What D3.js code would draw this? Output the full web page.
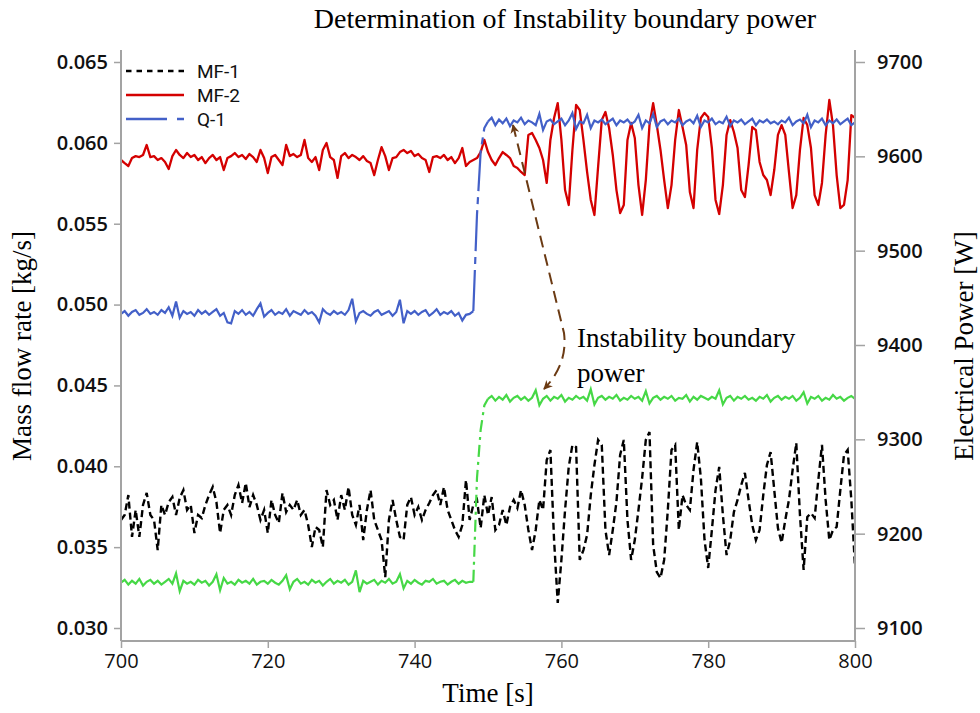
<!DOCTYPE html>
<html><head><meta charset="utf-8">
<script src="https://cdn.jsdelivr.net/npm/d3@7"></script>
<style>body{margin:0;background:#fff}</style>
</head><body><svg id="c" width="980" height="713"></svg>
<script>
// ---- data (sampled every 0.5 s from 700 s to 800 s) ----
const tStart = 700, tStep = 0.5;
const mf1 = [
0.03668,0.03699,0.03822,0.03563,0.03730,0.03563,0.03761,0.03835,0.03699,0.03668,
0.03482,0.03761,0.03699,0.03779,0.03810,0.03699,0.03804,0.03853,0.03730,0.03761,
0.03587,0.03699,0.03680,0.03761,0.03822,0.03872,0.03779,0.03587,0.03730,0.03761,
0.03699,0.03822,0.03884,0.03773,0.03897,0.03748,0.03822,0.03761,0.03668,0.03730,
0.03587,0.03792,0.03699,0.03649,0.03835,0.03717,0.03761,0.03730,0.03792,0.03699,
0.03730,0.03637,0.03501,0.03625,0.03606,0.03501,0.03853,0.03761,0.03792,0.03668,
0.03822,0.03730,0.03872,0.03699,0.03637,0.03761,0.03544,0.03730,0.03853,0.03668,
0.03606,0.03544,0.03315,0.03668,0.03792,0.03668,0.03563,0.03544,0.03761,0.03810,
0.03699,0.03748,0.03668,0.03730,0.03773,0.03822,0.03853,0.03761,0.03872,0.03730,
0.03668,0.03606,0.03563,0.03637,0.03915,0.03668,0.03761,0.03792,0.03618,0.03822,
0.03699,0.03810,0.03606,0.03637,0.03730,0.03637,0.03748,0.03792,0.03742,0.03853,
0.03761,0.03606,0.03482,0.03606,0.03792,0.03730,0.04039,0.04101,0.03544,0.03155,
0.03421,0.03730,0.03996,0.04132,0.04119,0.03421,0.03482,0.03575,0.03822,0.04008,
0.04163,0.04132,0.03606,0.03451,0.03606,0.03779,0.04070,0.04163,0.03668,0.03421,
0.03544,0.03730,0.03928,0.04163,0.04212,0.03513,0.03346,0.03309,0.03421,0.03730,
0.04101,0.04132,0.03606,0.03822,0.03761,0.03730,0.03977,0.04150,0.03928,0.03544,
0.03371,0.03606,0.03853,0.03996,0.03699,0.03451,0.03544,0.03717,0.03792,0.03884,
0.03959,0.03792,0.03637,0.03544,0.03606,0.03822,0.04008,0.04088,0.03853,0.03618,
0.03526,0.03668,0.03792,0.03977,0.04144,0.03699,0.03359,0.03686,0.03711,0.03680,
0.03915,0.04132,0.03792,0.03544,0.03606,0.03625,0.03853,0.04070,0.04101,0.03792,0.03377];
const mf2 = [
0.05894,0.05875,0.05857,0.05906,0.05918,0.05912,0.05925,0.05987,0.05912,0.05918,
0.05894,0.05906,0.05882,0.05838,0.05918,0.05956,0.05925,0.05906,0.05937,0.05912,
0.05925,0.05894,0.05912,0.05875,0.05906,0.05925,0.05894,0.05912,0.05832,0.05906,
0.05918,0.05937,0.05912,0.05925,0.05900,0.05931,0.05912,0.05882,0.05956,0.05906,
0.05813,0.05912,0.05925,0.05894,0.05863,0.05987,0.05918,0.05931,0.05912,0.05925,
0.06018,0.05906,0.05882,0.05912,0.05832,0.05956,0.05999,0.05912,0.05894,0.05783,
0.05918,0.05937,0.05906,0.05925,0.05912,0.05894,0.05918,0.05888,0.05875,0.05801,
0.05894,0.05974,0.05918,0.05832,0.05906,0.05912,0.05943,0.05956,0.05937,0.05950,
0.05918,0.05931,0.05906,0.05894,0.05820,0.05912,0.05918,0.05906,0.05925,0.05894,
0.05912,0.05875,0.05906,0.05968,0.05857,0.05882,0.05894,0.05906,0.05943,0.06018,
0.05943,0.05894,0.05863,0.05906,0.05943,0.05925,0.05906,0.05857,0.05845,0.05820,
0.05801,0.06049,0.06061,0.06018,0.05968,0.05894,0.05752,0.06018,0.06154,0.06246,
0.06018,0.05708,0.05616,0.05956,0.06234,0.06203,0.06018,0.05820,0.05647,0.05554,
0.05851,0.06141,0.06191,0.06092,0.05925,0.05708,0.05566,0.05616,0.06018,0.06123,
0.06030,0.05739,0.05554,0.05770,0.06110,0.06246,0.06110,0.05956,0.05770,0.05597,
0.05739,0.06018,0.06203,0.06098,0.05987,0.05696,0.05597,0.05956,0.06154,0.06185,
0.06160,0.05968,0.05647,0.05560,0.05739,0.06049,0.06141,0.06067,0.05968,0.05708,
0.05665,0.05863,0.06098,0.06079,0.05882,0.05801,0.05770,0.05677,0.05832,0.06049,
0.06110,0.06049,0.05820,0.05597,0.05677,0.05956,0.06154,0.06110,0.05968,0.05677,
0.05616,0.05752,0.06049,0.06265,0.06110,0.05801,0.05597,0.05616,0.05770,0.06172,0.06154];
const q1 = [
9433,9436,9431,9435,9437,9432,9434,9438,9433,9435,
9432,9437,9434,9440,9431,9446,9429,9436,9433,9435,
9431,9437,9433,9436,9432,9435,9438,9431,9434,9424,
9423,9436,9433,9437,9432,9435,9431,9438,9444,9430,
9434,9437,9432,9435,9433,9438,9431,9436,9434,9432,
9437,9433,9435,9431,9424,9438,9434,9432,9436,9433,
9435,9432,9437,9449,9425,9434,9436,9433,9431,9435,
9437,9432,9434,9436,9431,9435,9448,9423,9436,9433,
9436,9432,9435,9437,9431,9434,9438,9432,9435,9433,
9436,9431,9434,9426,9432,9433,9436,9538,9605,9630,
9637,9641,9633,9639,9635,9640,9632,9638,9636,9641,
9634,9638,9636,9633,9645,9628,9637,9639,9634,9637,
9640,9633,9638,9646,9629,9637,9635,9644,9630,9638,
9636,9639,9634,9637,9640,9633,9638,9636,9639,9634,
9637,9644,9630,9638,9635,9645,9631,9637,9639,9634,
9638,9636,9640,9633,9637,9639,9635,9643,9631,9638,
9636,9640,9634,9637,9635,9642,9632,9638,9636,9639,
9634,9637,9640,9633,9638,9636,9639,9635,9637,9634,
9638,9636,9641,9633,9637,9639,9635,9644,9631,9638,
9636,9640,9633,9638,9635,9639,9634,9637,9640,9633,9636];
const q2 = [
9148,9151,9146,9150,9147,9152,9145,9149,9151,9147,
9150,9146,9149,9152,9147,9158,9139,9150,9147,9149,
9146,9151,9148,9150,9145,9149,9157,9140,9153,9147,
9149,9146,9151,9148,9150,9147,9152,9146,9149,9150,
9147,9151,9148,9146,9150,9156,9141,9149,9152,9147,
9149,9146,9151,9148,9150,9145,9149,9152,9147,9150,
9148,9151,9146,9149,9161,9138,9150,9147,9149,9151,
9146,9150,9148,9152,9147,9149,9157,9142,9150,9147,
9151,9148,9146,9150,9149,9152,9147,9149,9150,9146,
9149,9151,9147,9150,9148,9149,9149,9259,9310,9336,
9343,9346,9341,9345,9342,9347,9340,9344,9346,9342,
9345,9341,9344,9352,9336,9343,9346,9341,9345,9343,
9347,9340,9344,9342,9346,9343,9345,9341,9353,9337,
9344,9346,9342,9345,9343,9347,9341,9344,9342,9346,
9343,9345,9341,9351,9338,9344,9346,9342,9345,9343,
9346,9341,9344,9343,9347,9340,9345,9342,9346,9344,
9342,9345,9343,9352,9337,9344,9346,9341,9345,9343,
9346,9342,9344,9341,9345,9343,9347,9340,9344,9346,
9342,9345,9343,9346,9341,9344,9350,9338,9345,9343,
9346,9341,9344,9342,9347,9343,9345,9341,9344,9346,9343];
const xTicks = [700, 720, 740, 760, 780, 800];
const yLeftTicks = [0.030, 0.035, 0.040, 0.045, 0.050, 0.055, 0.060, 0.065];
const yRightTicks = [9100, 9200, 9300, 9400, 9500, 9600, 9700];
const legendLabels = ["MF-1", "MF-2", "Q-1"];
const stepWindow = [748, 750]; // power step drawn dashed

// ---- drawing ----
const svg = d3.select("#c");
svg.append("rect").attr("width",980).attr("height",713).attr("fill","#fff");
const L = 121, R = 855, T = 50, B = 641;
const x = d3.scaleLinear().domain([700, 800]).range([L, R]);
const yL = d3.scaleLinear().domain([0.030, 0.065]).range([628, 62]);
const yR = d3.scaleLinear().domain([9100, 9700]).range([628, 62]);
const axisCol = "#a3a3a3";
const tickFont = "'Open Sans', 'Noto Sans', sans-serif";
const legFont = "Roboto, 'Open Sans', sans-serif";
const serif = "'Liberation Serif', 'Times New Roman', serif";

const toPts = arr => arr.map((v, i) => ({t: tStart + i * tStep, v}));
const P1 = toPts(mf1), P2 = toPts(mf2), PQ1 = toPts(q1), PQ2 = toPts(q2);

const lineL = d3.line().x(d => x(d.t)).y(d => yL(d.v));
const lineR = d3.line().x(d => x(d.t)).y(d => yR(d.v));

const plot = svg.append("g");
// MF-1
plot.append("path").attr("d", lineL(P1)).attr("fill","none").attr("stroke","#000")
  .attr("stroke-width",2.4).attr("stroke-dasharray","7,4");
// MF-2
plot.append("path").attr("d", lineL(P2)).attr("fill","none").attr("stroke","#d40000")
  .attr("stroke-width",2.3).attr("stroke-linejoin","round");
// power lines: solid plateaus, dashed step
function drawPower(pts, color, dash) {
  const pre = pts.filter(d => d.t <= stepWindow[0]);
  const step = pts.filter(d => d.t >= stepWindow[0] && d.t <= stepWindow[1]);
  const post = pts.filter(d => d.t >= stepWindow[1]);
  [pre, post].forEach(seg => plot.append("path").attr("d", lineR(seg)).attr("fill","none")
    .attr("stroke", color).attr("stroke-width", 2.2));
  plot.append("path").attr("d", lineR(step)).attr("fill","none")
    .attr("stroke", color).attr("stroke-width", 2.2).attr("stroke-dasharray", dash);
}
drawPower(PQ1, "#4360c8", "41,6,7,6");
drawPower(PQ2, "#46d846", "12,5,3,5");

// ---- axes ----
function styleAxis(g) {
  g.select(".domain").remove();
  g.selectAll(".tick line").attr("stroke", axisCol).attr("stroke-width", 1.5);
  g.selectAll(".tick text").attr("fill","#111").style("font-family", tickFont)
    .style("font-size","20px");
}
const gL = svg.append("g").attr("transform",`translate(${L},0)`)
  .call(d3.axisLeft(yL).tickValues(yLeftTicks).tickFormat(d3.format(".3f")).tickSize(7).tickPadding(6));
styleAxis(gL); gL.selectAll(".tick text").style("font-weight","600");
const gR = svg.append("g").attr("transform",`translate(${R},0)`)
  .call(d3.axisRight(yR).tickValues(yRightTicks).tickFormat(d3.format("d")).tickSize(10).tickPadding(12));
styleAxis(gR); gR.selectAll(".tick text").style("font-weight","600");
const gB = svg.append("g").attr("transform",`translate(0,${B})`)
  .call(d3.axisBottom(x).tickValues(xTicks).tickFormat(d3.format("d")).tickSize(7).tickPadding(6));
styleAxis(gB);

// frame lines
[[L,T,L,B],[R,T,R,B],[L,B,R,B]].forEach(([x1,y1,x2,y2]) =>
  svg.append("line").attr("x1",x1).attr("y1",y1).attr("x2",x2).attr("y2",y2)
    .attr("stroke", axisCol).attr("stroke-width", 2));

// ---- titles ----
svg.append("text").attr("x", 565).attr("y", 28).attr("text-anchor","middle")
  .style("font-family", serif).style("font-size","28px").text("Determination of Instability boundary power");
svg.append("text").attr("x", 488).attr("y", 702).attr("text-anchor","middle")
  .style("font-family", serif).style("font-size","27px").text("Time [s]");
svg.append("text").attr("transform","translate(31,346) rotate(-90)").attr("text-anchor","middle")
  .style("font-family", serif).style("font-size","27px").text("Mass flow rate [kg/s]");
svg.append("text").attr("transform","translate(973,346) rotate(-90)").attr("text-anchor","middle")
  .style("font-family", serif).style("font-size","27px").text("Electrical Power [W]");

// ---- legend ----
const legStyles = [
  {stroke:"#000", dash:"5.5,5", w:2.4},
  {stroke:"#d40000", dash:null, w:2.4},
  {stroke:"#4360c8", dash:"41,10,7,10", w:2.4}
];
legendLabels.forEach((lab, i) => {
  const yy = 71 + i * 24;
  const s = legStyles[i];
  const ln = svg.append("line").attr("x1",126).attr("x2",184).attr("y1",yy).attr("y2",yy)
    .attr("stroke", s.stroke).attr("stroke-width", s.w);
  if (s.dash) ln.attr("stroke-dasharray", s.dash);
  svg.append("text").attr("x",197).attr("y",yy+7).style("font-family", legFont)
    .style("font-size","19px").attr("fill","#111").text(lab);
});

// ---- annotation ----
const brown = "#6b3a13";
const defs = svg.append("defs");
defs.append("marker").attr("id","ah").attr("viewBox","0 0 10 10").attr("refX",9).attr("refY",5)
  .attr("markerWidth",4.5).attr("markerHeight",4.5).attr("orient","auto-start-reverse")
  .attr("markerUnits","strokeWidth")
  .append("path").attr("d","M0,0 L10,5 L0,10 L3,5 Z").attr("fill", brown);
svg.append("path").attr("d","M513,125 L564,333 Q568,364 544,389")
  .attr("fill","none").attr("stroke", brown).attr("stroke-width",2)
  .attr("stroke-dasharray","12,7").attr("marker-start","url(#ah)").attr("marker-end","url(#ah)");
svg.append("text").attr("x",577).attr("y",347).style("font-family", serif).style("font-size","27px")
  .text("Instability boundary");
svg.append("text").attr("x",577).attr("y",382).style("font-family", serif).style("font-size","27px")
  .text("power");
</script></body></html>
